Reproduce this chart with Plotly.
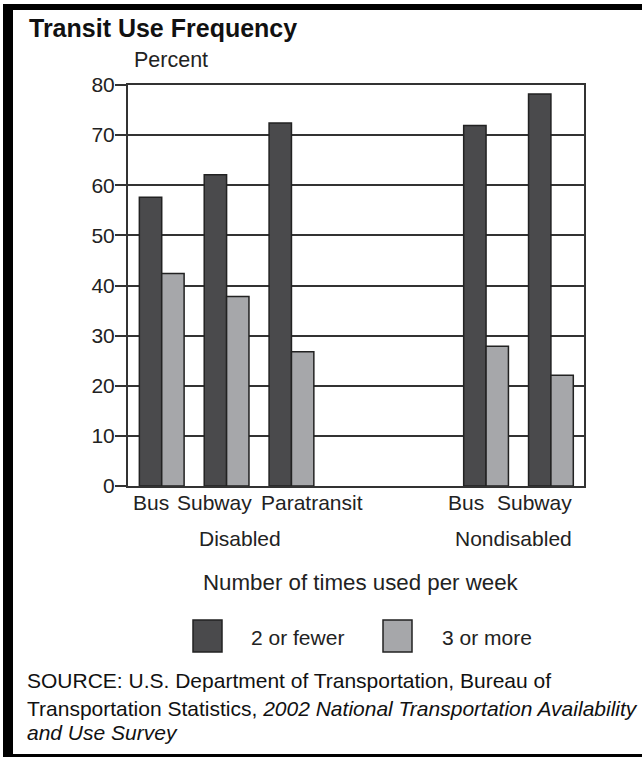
import plotly.graph_objects as go

# ---- data ----
groups = ["Disabled", "Disabled", "Disabled", "Nondisabled", "Nondisabled"]
modes = ["Bus", "Subway", "Paratransit", "Bus", "Subway"]
two_or_fewer = [57.6, 62.1, 72.4, 71.9, 78.2]
three_or_more = [42.4, 37.8, 26.8, 27.9, 22.1]
series_names = ["2 or fewer", "3 or more"]
group_names = ["Disabled", "Nondisabled"]
y_ticks = [0, 10, 20, 30, 40, 50, 60, 70, 80]

# ---- layout geometry (pixels) ----
W, H = 642, 757
L, R, T, B = 128, 584, 85, 486
PW, PH = R - L, B - T


def px(x):
    return (x - L) / PW


def py(y):
    return (B - y) / PH


keys = [f"{g}|{m}" for g, m in zip(groups, modes)]
cat_order = keys[:3] + ["gap1", "gap2"] + keys[3:]

DARK = "#4a4a4c"
LIGHT = "#a6a7aa"
INK = "#222222"
FONT = "Liberation Sans, Arial, Helvetica, sans-serif"

fig = go.Figure()
for name, vals, col in zip(series_names, [two_or_fewer, three_or_more], [DARK, LIGHT]):
    fig.add_trace(go.Bar(
        x=keys, y=vals, name=name,
        marker=dict(color=col, line=dict(color=INK, width=1.5)),
        showlegend=False,
    ))

fig.update_layout(
    width=W, height=H,
    margin=dict(l=L, r=W - R, t=T, b=H - B, pad=0),
    paper_bgcolor="white", plot_bgcolor="white",
    barmode="group", bargap=0.31, bargroupgap=0,
    font=dict(family=FONT, size=21, color=INK),
    xaxis=dict(
        type="category", categoryorder="array", categoryarray=cat_order,
        range=[-0.52, len(cat_order) - 1 + 0.51],
        showticklabels=False, ticks="", showgrid=False,
        showline=True, linecolor="#333333", linewidth=2, mirror=True,
    ),
    yaxis=dict(
        range=[0, 80], tickvals=y_ticks, ticktext=[str(v) for v in y_ticks],
        ticks="outside", ticklen=11, tickwidth=1.5, tickcolor="#333333",
        ticklabelstandoff=-4,
        showgrid=True, gridcolor="#333333", gridwidth=1.5,
        zeroline=False, showline=True, linecolor="#333333", linewidth=2,
        mirror=True, tickfont=dict(size=21, color=INK),
    ),
)

ann = []
# title & axis title
ann.append(dict(text="<b>Transit Use Frequency</b>", xref="paper", yref="paper",
                x=px(27), y=py(28), xanchor="left", yanchor="middle",
                showarrow=False, font=dict(size=25, color="#111111")))
ann.append(dict(text="Percent", xref="paper", yref="paper",
                x=px(171), y=py(60), xanchor="center", yanchor="middle",
                showarrow=False, font=dict(size=21.5)))

# category labels
label_shift = [-11, -12, 21, -20, -16]
for k, m, s in zip(keys, modes, label_shift):
    ann.append(dict(text=m, xref="x", yref="paper", x=k, y=py(503),
                    xshift=s, xanchor="center", yanchor="middle",
                    showarrow=False, font=dict(size=21)))
group_centers = [240, 513]
for g, cx in zip(group_names, group_centers):
    ann.append(dict(text=g, xref="paper", yref="paper", x=px(cx), y=py(538),
                    xanchor="center", yanchor="middle", showarrow=False,
                    font=dict(size=21)))

ann.append(dict(text="Number of times used per week", xref="paper", yref="paper",
                x=px(361), y=py(582), xanchor="center", yanchor="middle",
                showarrow=False, font=dict(size=22.3)))

# legend (custom swatches)
shapes = []
sw_left = [193, 383]
txt_left = [249, 440]
for name, col, sl, tl in zip(series_names, [DARK, LIGHT], sw_left, txt_left):
    shapes.append(dict(type="rect", xref="paper", yref="paper",
                       x0=px(sl), x1=px(sl + 29), y0=py(652), y1=py(620),
                       fillcolor=col, line=dict(color=INK, width=1.5)))
    ann.append(dict(text=name, xref="paper", yref="paper", x=px(tl), y=py(637),
                    xanchor="left", yanchor="middle", showarrow=False,
                    font=dict(size=21)))

# source
src_lines = [
    "SOURCE: U.S. Department of Transportation, Bureau of",
    "Transportation Statistics, <i>2002 National Transportation Availability</i>",
    "<i>and Use Survey</i>",
]
src_mid = [680.5, 708, 732]
for line, ym in zip(src_lines, src_mid):
    ann.append(dict(text=line, xref="paper", yref="paper", x=px(25), y=py(ym),
                    xanchor="left", yanchor="middle", showarrow=False,
                    font=dict(size=21, color="#111111")))

# frame
shapes.append(dict(type="rect", xref="paper", yref="paper", x0=px(3), x1=px(13),
                   y0=py(757), y1=py(4), fillcolor="black", line=dict(width=0)))
shapes.append(dict(type="rect", xref="paper", yref="paper", x0=px(3), x1=px(642),
                   y0=py(10), y1=py(4), fillcolor="black", line=dict(width=0)))
shapes.append(dict(type="rect", xref="paper", yref="paper", x0=px(3), x1=px(642),
                   y0=py(757), y1=py(754), fillcolor="black", line=dict(width=0)))

fig.update_layout(annotations=ann, shapes=shapes)
fig.write_html(
    "out.html",
    config={"displayModeBar": False},
    post_script="document.body.style.margin='0';document.body.style.overflow='hidden';",
)
